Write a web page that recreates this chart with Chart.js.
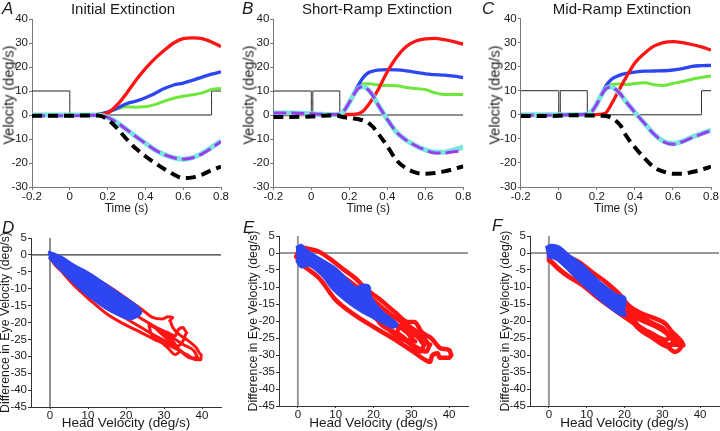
<!DOCTYPE html>
<html><head><meta charset="utf-8">
<script src="https://cdn.jsdelivr.net/npm/chart.js@4.4.0/dist/chart.umd.min.js"></script>
<style>
body{margin:0;background:#fff;}
#wrap{position:relative;width:720px;height:431px;overflow:hidden;background:#fff;font-family:"Liberation Sans",Arial,sans-serif;color:#1a1a1a;}
canvas{position:absolute;}
.lab{position:absolute;font-style:italic;font-size:17px;line-height:17px;color:#1a1a1a;}
.ttl{position:absolute;font-size:15px;line-height:15px;white-space:nowrap;transform:translateX(-50%);color:#1a1a1a;}
.yt{position:absolute;font-size:14.5px;line-height:15px;white-space:nowrap;transform:translate(-50%,-50%) rotate(-90deg);color:#1a1a1a;}
</style></head><body><div id="wrap">
<canvas id="cA" width="240" height="216" style="left:0px;top:0px"></canvas>
<canvas id="cB" width="240" height="216" style="left:240px;top:0px"></canvas>
<canvas id="cC" width="240" height="216" style="left:480px;top:0px"></canvas>
<canvas id="cD" width="242" height="216" style="left:-2px;top:215px"></canvas>
<canvas id="cE" width="240" height="216" style="left:240px;top:215px"></canvas>
<canvas id="cF" width="240" height="216" style="left:480px;top:215px"></canvas>
<div class="lab" style="left:2px;top:0px">A</div>
<div class="lab" style="left:242px;top:0px">B</div>
<div class="lab" style="left:482px;top:0px">C</div>
<div class="lab" style="left:2px;top:219px">D</div>
<div class="lab" style="left:243px;top:219px">E</div>
<div class="lab" style="left:492px;top:217px">F</div>
<div class="ttl" style="left:123px;top:1px">Initial Extinction</div>
<div class="ttl" style="left:377px;top:1px">Short-Ramp Extinction</div>
<div class="ttl" style="left:622px;top:1px">Mid-Ramp Extinction</div>
<div class="yt" style="left:8.5px;top:95px">Velocity (deg/s)</div>
<div class="yt" style="left:248.5px;top:95px">Velocity (deg/s)</div>
<div class="yt" style="left:495px;top:95px">Velocity (deg/s)</div>
</div>
<script>
// ---------- tick values / labels ----------
const xTicksTop = [-0.2, 0, 0.2, 0.4, 0.6, 0.8];
const xLabelsTop = ['-0.2', '0', '0.2', '0.4', '0.6', '0.8'];
const yTicksTop = [-30, -20, -10, 0, 10, 20, 30, 40];
const yLabelsTop = ['-30', '-20', '-10', '0', '10', '20', '30', '40'];
const xTicksBot = [0, 10, 20, 30, 40];
const xLabelsBot = ['0', '10', '20', '30', '40'];
const yTicksBot = [-45, -40, -35, -30, -25, -20, -15, -10, -5, 0, 5];
const yLabelsBot = ['-45', '-40', '-35', '-30', '-25', '-20', '-15', '-10', '-5', '0', '5'];

// ---------- Panel A: Initial Extinction ----------
const tA = [-0.2, -0.1, 0, 0.1, 0.15, 0.2, 0.25, 0.3, 0.35, 0.4, 0.45, 0.5, 0.55, 0.6, 0.65, 0.7, 0.75, 0.8];
const aRed    = [0, 0, 0, 0, 0.2, 0.8, 4.2, 9, 14.5, 19.3, 23.5, 27, 30, 31.8, 32.1, 31.8, 30.4, 28.5];
const aBlue   = [0, 0, 0, 0, 0.3, 1.2, 2.8, 4.7, 5.8, 7.2, 9, 11, 12.5, 13.3, 14.5, 15.8, 17, 18];
const aGreen  = [0, 0, 0, 0, 0.3, 1.2, 2.5, 3.4, 3.2, 3.4, 4.3, 5.8, 7, 7.8, 8.4, 9.2, 10.6, 11];
const aCyan   = [0, 0, 0, 0, 0, -1, -3.2, -6, -9, -11.8, -14.5, -16.5, -17.8, -18.4, -17.8, -16, -13.5, -10.8];
const aPurple = [-0.3, -0.3, -0.3, -0.2, -0.1, -1, -3.2, -6, -9, -11.8, -14.5, -16.5, -17.8, -18.4, -17.8, -16.2, -13.8, -11];
const aBlack  = [-0.3, -0.3, -0.3, -0.2, -0.2, -1.8, -5.5, -10, -14, -17.2, -20, -22.5, -24.8, -26.3, -26, -24.8, -23, -21.5];
const stepAT = [-0.2, 0, 0, 0.75, 0.75, 0.8];
const stepAV = [10, 10, 0, 0, 10, 10];

// ---------- Panel B: Short-Ramp Extinction ----------
const tB = [-0.2, -0.1, 0, 0.05, 0.1, 0.15, 0.175, 0.2, 0.225, 0.25, 0.275, 0.3, 0.325, 0.35, 0.4, 0.45, 0.5, 0.55, 0.6, 0.65, 0.7, 0.75, 0.8];
const bRed    = [0.2, 0.2, 0.2, 0.2, 0.2, 0.2, 0.2, 0.2, 0.3, 0.6, 1.8, 4.2, 7, 10.3, 18, 24.2, 28.5, 30.8, 31.7, 31.9, 31.4, 30.6, 29.5];
const bBlue   = [0.3, 0.3, 0.3, 0.3, 0.2, 0.3, 2, 5.3, 9.3, 12.8, 15.8, 17.6, 18.3, 18.7, 18.9, 18.8, 18.4, 17.8, 17.1, 16.8, 16.6, 16.2, 15.6];
const bGreen  = [0.5, 0.5, 0.3, 0.3, 0.2, 0.3, 2, 5.3, 9.2, 12, 13, 13, 12.8, 12.6, 12.3, 12.2, 11.5, 11, 10.6, 9.3, 8.5, 8.5, 8.5];
const bCyan   = [0.8, 0.8, 0.5, 0.3, 0.2, 0.3, 2, 5.2, 8.7, 11.3, 11.8, 10.5, 8, 4.5, -1.8, -7.3, -10.5, -12.8, -14.5, -15.4, -15.5, -14.5, -13.4];
const bPurple = [0.8, 0.8, 0.5, 0.3, 0.2, 0.3, 2, 5.2, 8.7, 11.3, 11.8, 10.5, 8, 4.5, -1.8, -7.3, -10.5, -12.8, -14.6, -15.8, -15.8, -15.3, -15];
const bBlack  = [-0.8, -0.8, -0.6, -0.3, -0.2, -0.5, -1, -1.2, -1.5, -1.8, -2.3, -3.3, -5, -7.5, -13, -19, -22.2, -24, -24.5, -24.2, -23.5, -22.5, -21.4];
const stepBT = [-0.2, 0, 0, 0.008, 0.008, 0.15, 0.15, 0.8];
const stepBV = [10, 10, 0, 0, 10, 10, 0, 0];

// ---------- Panel C: Mid-Ramp Extinction ----------
const tC = [-0.2, -0.1, 0, 0.05, 0.1, 0.15, 0.175, 0.2, 0.225, 0.25, 0.275, 0.3, 0.325, 0.35, 0.4, 0.45, 0.5, 0.55, 0.6, 0.65, 0.7, 0.75, 0.8];
const cRed    = [0, 0, 0, 0, 0, 0, 0, 0.1, 0.3, 1, 4.2, 7.8, 11.5, 15, 21.5, 25.5, 28.5, 30, 30.4, 30, 29.2, 28.2, 26.9];
const cBlue   = [0, 0, 0, 0, -0.1, 0.3, 1.5, 4.7, 8.8, 12.3, 14.6, 15.8, 16.6, 17.1, 17.7, 18.1, 18.2, 18.3, 18.6, 19.2, 20.1, 20.4, 20.5];
const cGreen  = [0, 0, 0, 0, -0.1, 0.3, 1.5, 4.6, 8.5, 11.8, 12.5, 12.8, 12.7, 12.6, 13, 13.3, 12.5, 12.2, 13, 13.8, 14.8, 15.5, 16.1];
const cCyan   = [0, 0, 0, 0, 0, 0.3, 1.5, 4.5, 8.3, 11, 11.5, 10.5, 8.5, 5.8, 1, -3.5, -8, -11, -12, -11, -9.3, -7.8, -6.4];
const cPurple = [-0.2, -0.2, -0.1, 0, 0, 0.3, 1.5, 4.5, 8.3, 11, 11.5, 10.5, 8.5, 5.8, 1, -3.5, -8, -11.2, -12.2, -11.2, -9.5, -8, -6.6];
const cBlack  = [-0.5, -0.5, -0.4, -0.2, -0.2, -0.3, -0.3, -0.3, -0.4, -0.5, -1.2, -2.5, -4.5, -8.2, -13.5, -18, -21.8, -23.6, -24.5, -24.5, -23.8, -22.8, -21.6];
const stepCT = [-0.2, 0, 0, 0.008, 0.008, 0.15, 0.15, 0.75, 0.75, 0.8];
const stepCV = [10, 10, 0, 0, 10, 10, 0, 0, 10, 10];

// ---------- Panel D: head velocity vs eye-velocity difference ----------
const dRedLoop1 = [[0,0.5],[0.5,-1.5],[3,-4.8],[6.3,-9],[10.7,-13.5],[15,-17.5],[19.5,-20.5],[24,-23],[28,-25.3],[32.7,-27.5],[36,-29.5],[38.5,-31],[39.7,-31],[39.8,-29.5],[38.5,-27.5],[36.5,-25.5],[34,-23.5],[32.3,-21.5],[31.5,-19.5],[32.3,-18.5],[31,-18.3],[29.5,-19],[27,-18.5],[24,-16],[20,-12.8],[15,-9],[10,-5.8],[5,-2.8],[1,0.2],[0,0.5]];
const dRedLoop2 = [[0,0],[5,-4.8],[10,-9],[15,-12.5],[20,-16],[25,-19.5],[28,-21.5],[31,-23],[33,-24],[33.5,-22.5],[35,-21.5],[36,-23],[35,-25.5],[33.5,-27],[32,-26.5],[30,-25.3],[27,-23.5],[24,-21.5],[20,-18.8],[15,-15.5],[10,-11.5],[5,-7],[0,-1]];
const dRedLoop3 = [[28,-22],[31,-25],[34,-28],[37,-30.5],[39,-30.5],[38,-28.5],[35,-26.5],[33,-25],[30,-23],[28,-22]];
const dRedLoop4 = [[26,-20.5],[29,-22.5],[31.5,-24.5],[33,-26.5],[34.5,-28.5],[33,-29.5],[31,-27.5],[29,-25.5],[26.5,-23],[26,-20.5]];
const dBlue = [[-0.5,0.9],[2.8,-0.6],[6.3,-3.1],[10.7,-5.8],[15.1,-9.2],[19.5,-12.6],[23,-15.4],[23.9,-17.1],[21.3,-18.9],[17.8,-17.6],[15.1,-16],[12.5,-14],[9,-11],[5.5,-7.3],[1.9,-3.3],[-0.3,-0.6]];

// ---------- Panel E ----------
const eRedLoop1 = [[0.4,1.8],[5.7,0.3],[8.3,-1.6],[11.8,-4.6],[15.3,-7.5],[17.9,-10.5],[21.4,-13.4],[25.7,-17.4],[29.2,-20.3],[30.9,-20.3],[32.7,-23.2],[35.4,-25.2],[37.9,-28.1],[40.1,-28.6],[40.6,-30],[40.1,-30.8],[37.5,-30.8],[37,-29.5],[35.5,-30.2],[35,-32],[33,-31],[30.6,-29.1],[25,-25],[20.1,-21.8],[15,-18.2],[10,-13.8],[5.7,-7.5],[2,-4.2],[0.4,-2.8],[-0.5,-1],[0.4,1.8]];
const eRedLoop2 = [[0,0],[5,-2.5],[10,-5.5],[15,-9.5],[20,-14],[25,-18.5],[30,-22],[33,-24.5],[35,-27],[34,-29],[31,-27.5],[27,-24.5],[22,-20.5],[17,-16],[12,-11],[8,-6.5],[3,-2.5],[0,0]];
const eRedLoop3 = [[27,-21],[30,-23.5],[32,-25],[33.5,-27],[32.5,-29],[29.5,-26.5],[26,-23.5],[27,-21]];
const eRedLoop4 = [[20,-16],[23,-18.5],[26,-21],[29,-23.5],[31,-26],[28,-25.5],[24,-22.5],[21,-19.5],[20,-16]];
const eBlue = [[-0.5,1.5],[0.9,2.3],[2.2,0.8],[5.7,-1.65],[10,-4.6],[12.65,-7.5],[14.4,-9.5],[15.5,-10.3],[17,-9.5],[18.8,-9.8],[19.2,-12.9],[22.3,-17.4],[25.7,-20.3],[26.2,-21.3],[24.9,-21.8],[21.4,-19.8],[17,-17.3],[12.65,-13.9],[9.2,-10.5],[6.5,-6.6],[3.05,-3.6],[0.9,-4.1],[-0.4,-2.1]];

// ---------- Panel F ----------
const fRedLoop1 = [[0,0.5],[1.8,0.3],[5.3,-1.2],[7.9,-2.6],[11.4,-5.6],[15,-8.5],[18.5,-11.95],[21.1,-15.4],[24.6,-17.8],[28.2,-19.3],[30.8,-20.8],[32.6,-23.2],[35.2,-26.2],[35.6,-27.1],[34.3,-28.6],[33.4,-29.1],[29.9,-25.7],[24.6,-22.2],[19.3,-18.3],[13.2,-13.4],[7.9,-8.6],[5,-6.8],[2.6,-4.8],[0,-2.2],[0,0.5]];
const fRedLoop2 = [[0,0],[5,-3],[10,-6.5],[15,-10.5],[20,-15],[25,-19],[30,-22.5],[33,-25],[34.5,-27],[32,-27],[28,-24.5],[23,-21],[18,-17],[13,-13],[9,-9.5],[6,-7.5],[3,-5],[0,-2]];
const fRedLoop3 = [[22,-17.5],[26,-20],[30,-22],[32.5,-24.5],[31,-25.5],[27,-23.5],[23,-20.5],[22,-17.5]];
const fRedLoop4 = [[20,-16.5],[24,-19.5],[28,-21.5],[31,-23.5],[33.5,-26],[31.5,-27.5],[27.5,-25],[23.5,-22],[20,-16.5]];
const fBlue = [[-0.9,1.5],[0.5,2.3],[2.6,1.8],[5.3,-0.7],[8.8,-3.6],[12.3,-7.5],[15,-10],[18,-12.45],[19.8,-12.9],[20.2,-13.9],[19.8,-16.9],[20.2,-18.3],[18.5,-17.8],[15,-14.9],[11.4,-11.5],[7.9,-8],[4.4,-4.1],[1.8,-1.7],[-0.4,-1.2]];

// ---------- drawing ----------
const FONT = '"Liberation Sans", Arial, sans-serif';
const TXT = '#1a1a1a';
const RED = '#ff1414', BLUE = '#2e46f2', GREEN = '#6ee63c', CYAN = '#78e6dc', PURPLE = '#9a3cf0';
const pts = (xs, ys) => xs.map((x, i) => ({x: x, y: ys[i]}));
const pairs = a => a.map(p => ({x: p[0], y: p[1]}));

function lineDs(data, color, width, dash, order, tension) {
  return {data: data, showLine: true, fill: false, borderColor: color, backgroundColor: color,
    borderWidth: width, borderDash: dash, pointRadius: 0, tension: tension === undefined ? 0.35 : tension,
    cubicInterpolationMode: 'monotone', borderCapStyle: 'butt', borderJoinStyle: 'round', order: order};
}

function axisX(min, max, ticks, labels, title, tsize, g, axisColor, tickLen) {
  return {type: 'linear', min: min, max: max,
    afterBuildTicks: s => { s.ticks = ticks.map(v => ({value: v})); },
    afterFit: s => { s.height = g.xh; },
    grid: {drawOnChartArea: false, drawTicks: true, tickLength: tickLen, color: axisColor},
    border: {color: axisColor, width: 1},
    ticks: {font: {family: FONT, size: 11.5}, color: TXT, padding: g.xpad, maxRotation: 0, autoSkip: false,
      callback: (v, i) => labels[i]},
    title: {display: true, text: title, font: {family: FONT, size: tsize}, color: TXT, padding: 0}};
}
function axisY(min, max, ticks, labels, title, g, axisColor) {
  return {type: 'linear', min: min, max: max,
    afterBuildTicks: s => { s.ticks = ticks.map(v => ({value: v})); },
    afterFit: s => { s.width = g.yw; },
    grid: {drawOnChartArea: false, drawTicks: true, tickLength: 3, color: axisColor},
    border: {color: axisColor, width: 1},
    ticks: {font: {family: FONT, size: 11.5}, color: TXT, padding: 1, autoSkip: false,
      callback: (v, i) => labels[i]},
    title: {display: !!title, text: title || '', font: {family: FONT, size: 12.3}, color: TXT, padding: 0}};
}
function baseOptions(g) {
  return {responsive: false, animation: false, events: [],
    layout: {padding: {left: g.pl, right: g.pr, top: g.pt, bottom: 0}},
    plugins: {legend: {display: false}, tooltip: {enabled: false}, title: {display: false}}};
}

function makeTop(id, t, s, stepT, stepV, g) {
  const o = baseOptions(g);
  o.scales = {
    x: axisX(-0.2, 0.8, xTicksTop, xLabelsTop, 'Time (s)', 12, g, '#777', 3),
    y: axisY(-30, 40, yTicksTop, yLabelsTop, null, g, '#777')
  };
  new Chart(document.getElementById(id), {type: 'scatter', data: {datasets: [
    lineDs(pts(t, s.black), '#000', 4, [10, 6], 1),
    lineDs(pts(t, s.purple), PURPLE, 3, [13, 5], 2),
    lineDs(pts(t, s.cyan), CYAN, 5, [], 3),
    lineDs(pts(t, s.red), RED, 3.3, [], 4),
    lineDs(pts(t, s.blue), BLUE, 3.3, [], 5),
    lineDs(pts(t, s.green), GREEN, 3, [], 6),
    lineDs(pts(stepT, stepV), '#222', 1, [], 7, 0)
  ]}, options: o});
}

function makeBottom(id, redLoops, redW, blue, vColor, vWidth, g) {
  const o = baseOptions(g);
  o.scales = {
    x: axisX(-5, 45, xTicksBot, xLabelsBot, 'Head Velocity (deg/s)', 13.5, g, '#333', 2),
    y: axisY(-45, 5, yTicksBot, yLabelsBot, 'Difference in Eye Velocity (deg/s)', g, '#333')
  };
  const ds = [];
  ds.push({data: pairs(blue), showLine: true, fill: 'shape', backgroundColor: BLUE, borderColor: BLUE,
    borderWidth: 3, pointRadius: 0, tension: 0.3, borderJoinStyle: 'round', order: 1});
  redLoops.forEach(l => ds.push(lineDs(pairs(l), RED, redW, [], 2, 0.3)));
  ds.push(lineDs(pairs([[-5, 0], [45, 0]]), '#333', 1.2, [], 8, 0));
  ds.push(lineDs(pairs([[0, 5], [0, -45]]), vColor, vWidth, [], 9, 0));
  new Chart(document.getElementById(id), {type: 'scatter', data: {datasets: ds}, options: o});
}

makeTop('cA', tA, {red: aRed, blue: aBlue, green: aGreen, cyan: aCyan, purple: aPurple, black: aBlack}, stepAT, stepAV,
  {pl: 0, yw: 32, pr: 19, pt: 19, xh: 29, xpad: 0});
makeTop('cB', tB, {red: bRed, blue: bBlue, green: bGreen, cyan: bCyan, purple: bPurple, black: bBlack}, stepBT, stepBV,
  {pl: 0, yw: 33.3, pr: 16.7, pt: 19, xh: 29, xpad: 0});
makeTop('cC', tC, {red: cRed, blue: cBlue, green: cGreen, cyan: cCyan, purple: cPurple, black: cBlack}, stepCT, stepCV,
  {pl: 6, yw: 34.7, pr: 9, pt: 18.5, xh: 29, xpad: 0});
makeBottom('cD', [dRedLoop1, dRedLoop2, dRedLoop3, dRedLoop4], 3, dBlue, '#555', 1.3,
  {pl: 0, yw: 33, pr: 19, pt: 23, xh: 24, xpad: 0});
makeBottom('cE', [eRedLoop1, eRedLoop2, eRedLoop3, eRedLoop4], 4.5, eBlue, '#999', 2,
  {pl: 6, yw: 33, pr: 12, pt: 21, xh: 25, xpad: 0});
makeBottom('cF', [fRedLoop1, fRedLoop2, fRedLoop3, fRedLoop4], 4.5, fBlue, '#999', 2,
  {pl: 18, yw: 32, pr: 1, pt: 21, xh: 25, xpad: 0});
</script>
</body></html>
